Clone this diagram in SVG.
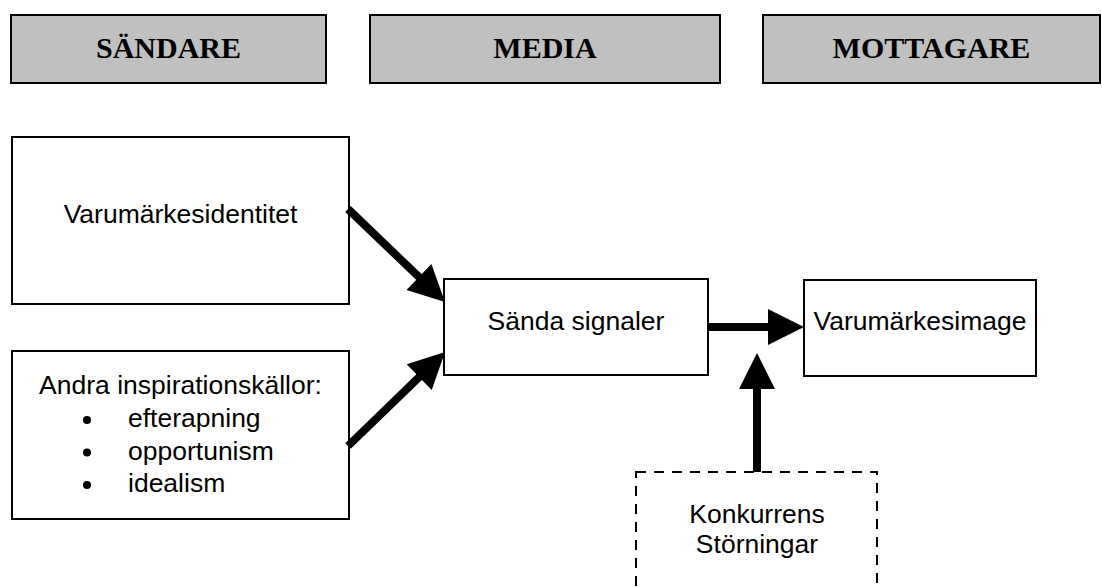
<svg xmlns="http://www.w3.org/2000/svg" width="1102" height="588" viewBox="0 0 1102 588">
  <style>
    .hdr rect { fill: #C0C0C0; stroke: #000; stroke-width: 2; }
    .hdr text { font-family: "Liberation Serif", "Times New Roman", serif; font-weight: bold; font-size: 30px; text-anchor: middle; fill: #000; }
    .box rect { fill: #fff; stroke: #000; stroke-width: 2; }
    .dash rect { fill: #fff; stroke: #000; stroke-width: 2; stroke-dasharray: 10 8; }
    .lbl { font-family: "Liberation Sans", Arial, sans-serif; font-size: 26.5px; fill: #000; }
    .mid { text-anchor: middle; }
    .conn line { stroke: #000; stroke-width: 8; marker-end: url(#ah); }
  </style>
  <defs>
    <marker id="ah" markerUnits="userSpaceOnUse" markerWidth="36" markerHeight="36" refX="6" refY="18" orient="auto" overflow="visible">
      <path d="M0,0 L36,18 L0,36 Z" fill="#000"/>
    </marker>
  </defs>

  <g id="hdr-sandare" class="hdr">
    <rect x="11" y="15" width="315" height="68"/>
    <text x="168.5" y="58">SÄNDARE</text>
  </g>
  <g id="hdr-media" class="hdr">
    <rect x="370" y="15" width="350" height="68"/>
    <text x="545" y="58">MEDIA</text>
  </g>
  <g id="hdr-mottagare" class="hdr">
    <rect x="763" y="15" width="337" height="68"/>
    <text x="931.5" y="58">MOTTAGARE</text>
  </g>

  <g id="varumarkesidentitet" class="box">
    <rect x="12" y="137" width="337" height="167"/>
    <text class="lbl mid" x="180.5" y="223">Varumärkesidentitet</text>
  </g>

  <g id="andra" class="box">
    <rect x="12" y="351" width="337" height="168"/>
    <text class="lbl mid" x="180.5" y="394">Andra inspirationskällor:</text>
    <circle cx="87" cy="420" r="4"/>
    <text class="lbl" x="128" y="427">efterapning</text>
    <circle cx="87" cy="452.5" r="4"/>
    <text class="lbl" x="128" y="459.5">opportunism</text>
    <circle cx="87" cy="485" r="4"/>
    <text class="lbl" x="128" y="492">idealism</text>
  </g>

  <g id="sanda" class="box">
    <rect x="444" y="279" width="264" height="96"/>
    <text class="lbl mid" x="576" y="330">Sända signaler</text>
  </g>

  <g id="image" class="box">
    <rect x="804" y="280" width="232" height="96"/>
    <text class="lbl mid" x="920" y="330">Varumärkesimage</text>
  </g>

  <g id="konkurrens" class="dash">
    <rect x="636" y="472" width="241" height="140"/>
    <text class="lbl mid" x="757" y="523">Konkurrens</text>
    <text class="lbl mid" x="757" y="553">Störningar</text>
  </g>

  <g id="connectors" class="conn">
    <line x1="348" y1="209" x2="423.3" y2="281.2"/>
    <line x1="348" y1="446" x2="423.5" y2="372.9"/>
    <line x1="708" y1="327" x2="774" y2="327"/>
    <line x1="757" y1="472" x2="757" y2="383"/>
  </g>
</svg>
